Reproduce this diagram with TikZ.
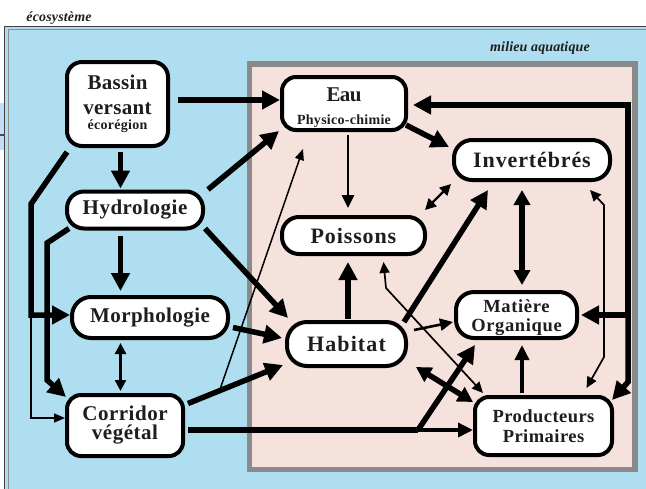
\documentclass[tikz,border=0pt]{standalone}
\usepackage{fontspec}
\setmainfont{Liberation Serif}
\usetikzlibrary{arrows.meta,calc}

\definecolor{skyfill}{RGB}{174,222,240}
\definecolor{pinkfill}{RGB}{245,226,220}
\definecolor{framegrey}{RGB}{138,138,138}
\definecolor{inkdark}{RGB}{30,30,30}

% size, baselineskip, letter spacing (percent of size)
\newcommand\boxtext[3]{\fontsize{#1}{#2}\selectfont\addfontfeature{LetterSpace=#3}}

\tikzset{
  box/.style={draw=black, line width=4pt, fill=white, inner sep=0pt,
    align=center, text=inkdark},
  big/.style={line width=5.5pt, -{Triangle[length=18pt,width=18pt]}},
  bigboth/.style={line width=5.5pt,
    {Triangle[length=15pt,width=16pt]}-{Triangle[length=15pt,width=16pt]}},
  midthick/.style={line width=3.5pt, -{Triangle[length=15pt,width=14pt]}},
  mid/.style={line width=2.6pt, -{Triangle[length=13pt,width=12pt]}},
  midboth/.style={line width=2.4pt,
    {Triangle[length=11pt,width=11pt]}-{Triangle[length=11pt,width=11pt]}},
  thin/.style={line width=1.5pt, -{Triangle[length=11pt,width=9pt]}},
  thinboth/.style={line width=1.7pt,
    {Triangle[length=11pt,width=10pt]}-{Triangle[length=11pt,width=10pt]}},
  areatitle/.style={inner sep=0pt, text=inkdark,
    font=\bfseries\itshape\boxtext{14}{16}{1}}
}

\begin{document}
\begin{tikzpicture}[x=1pt,y=-1pt]
\useasboundingbox (0,0) rectangle (646,488);
\clip (0,0) rectangle (646,488);

% ecosystem panel with its double rule
\fill[skyfill] (4,26) rectangle (700,540);
\draw[line width=0.9pt, black!75] (4.5,26.5) rectangle (700,540);
\draw[line width=0.7pt, black!45] (8,29.5) rectangle (700,540);

% edge of a neighbouring panel
\fill[blue!10!skyfill!60!white] (0,103) rectangle (3.8,150);
\draw[line width=2pt, black!70] (0,135) -- (4.5,135);

% aquatic panel
\draw[line width=5.5pt, draw=framegrey, fill=pinkfill] (249.5,64) rectangle (635,469.5);

\node[areatitle] (eco) at (59,18.5) {écosystème};
\node[areatitle] (aqua) at (540,48) {milieu aquatique};

% boxes
\node[box, rounded corners=15pt, minimum width=101pt, minimum height=84pt,
  font=\bfseries\boxtext{21}{25}{1.5}] (bassin) at (117.5,104)
  {Bassin\\versant\\[-10pt]{\boxtext{14}{16}{2}écorégion}};
\node[box, rounded corners=17pt, minimum width=136pt, minimum height=37pt,
  font=\bfseries\boxtext{21}{24}{2.5}] (hydro) at (135,210) {Hydrologie};
\node[box, rounded corners=19pt, minimum width=156pt, minimum height=41pt,
  font=\bfseries\boxtext{21}{24}{2}] (morpho) at (150,317.5) {Morphologie};
\node[box, rounded corners=14pt, minimum width=116pt, minimum height=61pt,
  font=\bfseries\boxtext{21}{19}{2.5}] (corridor) at (125,425.5) {Corridor\\végétal};
\node[box, rounded corners=14pt, minimum width=124pt, minimum height=53pt,
  font=\bfseries\boxtext{21}{23}{-3}] (eau) at (344,103.5)
  {\rule{0pt}{22pt}Eau\\{\boxtext{14}{16}{2}Physico-chimie}};
\node[box, rounded corners=17pt, minimum width=143pt, minimum height=37pt,
  font=\bfseries\boxtext{22}{24}{4}] (poissons) at (353.5,235.5) {Poissons};
\node[box, rounded corners=18pt, minimum width=156pt, minimum height=40pt,
  font=\bfseries\boxtext{22}{24}{4}] (invert) at (532,160) {Invertébrés};
\node[box, rounded corners=20pt, minimum width=119pt, minimum height=44pt,
  font=\bfseries\boxtext{22}{24}{5}] (habitat) at (346.5,344) {Habitat};
\node[box, rounded corners=18pt, minimum width=121pt, minimum height=46pt,
  font=\bfseries\boxtext{18.5}{19}{3.5}] (mo) at (516.5,315)
  {\rule{0pt}{19pt}Matière\\Organique};
\node[box, rounded corners=14pt, minimum width=137pt, minimum height=58pt,
  font=\bfseries\boxtext{18.5}{20.5}{2.5}] (prod) at (543.5,426) {Producteurs\\Primaires};

% routing points
\coordinate (col1) at (120.5,0);
\coordinate (col2) at (348,0);
\coordinate (col3) at (522,0);
\coordinate (lb1) at (31,204);
\coordinate (lb2) at (31,315);
\coordinate (lb3) at (31,418);
\coordinate (lh1) at (47,243);
\coordinate (lh2) at (47,380);
\coordinate (jc) at (418,430);
\coordinate (busT) at (628,105);
\coordinate (busM) at (628,315);
\coordinate (busB) at (628,382);
\coordinate (ip1) at (604,205);
\coordinate (ip2) at (604,357);
\coordinate (pp1) at (386,288);
\coordinate (ch0) at ($(corridor.east)+(3,-22)$);

% catchment links
\draw[big] ($(bassin.east)+(8,-4)$) -- ($(eau.west)+(0,-3.5)$);
\draw[big] ($(col1|-bassin.south)+(0,4)$) -- ($(col1|-hydro.north)+(0,-1)$);
\draw[big] ($(bassin.south west)+(2,4)$) -- (lb1) -- (lb2) -- (lb2 -| morpho.west);
\draw[thin] (lb2) -- (lb3) -- (lb3 -| corridor.west);

% hydrology links
\draw[big] ($(hydro.south west)+(4,-2)$) -- (lh1) -- (lh2) -- ($(corridor.north west)+(1,4)$);
\draw[big] ($(col1|-hydro.south)+(0,5)$) -- ($(col1|-morpho.north)+(0,-4)$);
\draw[big] ($(hydro.north east)+(3,0)$) -- ($(eau.south west)+(-1,-1)$);
\draw[big] ($(hydro.south east)+(0,-2)$) -- ($(habitat.north west)+(3,-2)$);

% morphology and riparian corridor
\draw[midboth] ($(col1|-morpho.south)+(0,3)$) -- ($(col1|-corridor.north)+(0,-2)$);
\draw[big] ($(morpho.east)+(3,10)$) -- ($(habitat.west)+(-3,-6)$);
\draw[big] (ch0) -- ($(habitat.south west)+(-2,-3)$);
\draw[thin] ($(ch0)!0.32!(habitat.south west)$) -- ($(eau.south west)+(23,17)$);
\draw[line width=5.5pt] ($(corridor.east)+(3,4.5)$) -- (jc);
\draw[midthick] (jc) -- (jc -| prod.west);
\draw[big] (jc) -- ($(mo.south west)+(21,5)$);

% water quality
\draw[mid] ($(col2|-eau.south)+(0,3)$) -- ($(col2|-poissons.north)+(0,-7)$);
\draw[big] ($(eau.south east)+(-2,-7)$) -- ($(invert.north west)+(-3,9)$);

% collector on the right
\draw[big] (busM) -- (busT) -- ($(eau.east|-busT)+(5,0)$);
\draw[big] (busM) -- (busB) -- ($(prod.north east)+(-2,5)$);
\draw[big] (busM) -- ($(mo.east)+(2,0)$);

% biological compartments
\draw[thinboth] ($(invert.south east)+(-22,8)$) -- (ip1) -- (ip2) -- ($(prod.north)+(43,-7)$);
\draw[bigboth] ($(col3|-invert.south)+(0,8)$) -- ($(col3|-mo.north)+(0,-5)$);
\draw[midboth] ($(poissons.north east)+(-2,-5)$) -- ($(invert.south west)+(-1,2)$);

% habitat links
\draw[big] ($(habitat.north east)+(-4,2)$) -- ($(invert.south west)+(36,8)$);
\draw[big] ($(col2|-habitat.north)+(0,-1)$) -- ($(col2|-poissons.south)+(0,6)$);
\draw[thinboth] ($(poissons.south)+(30,6)$) -- (pp1) -- ($(prod.north west)+(10,-2)$);
\draw[mid] ($(habitat.north east)+(6,10)$) -- ($(mo.west)+(-1,7)$);
\draw[bigboth] ($(habitat.south east)+(8,-1)$) -- ($(prod.north west)+(0,7)$);
\draw[midthick] ($(col3|-prod.north)+(0,-2)$) -- ($(col3|-mo.south)+(0,5)$);
\end{tikzpicture}
\end{document}
